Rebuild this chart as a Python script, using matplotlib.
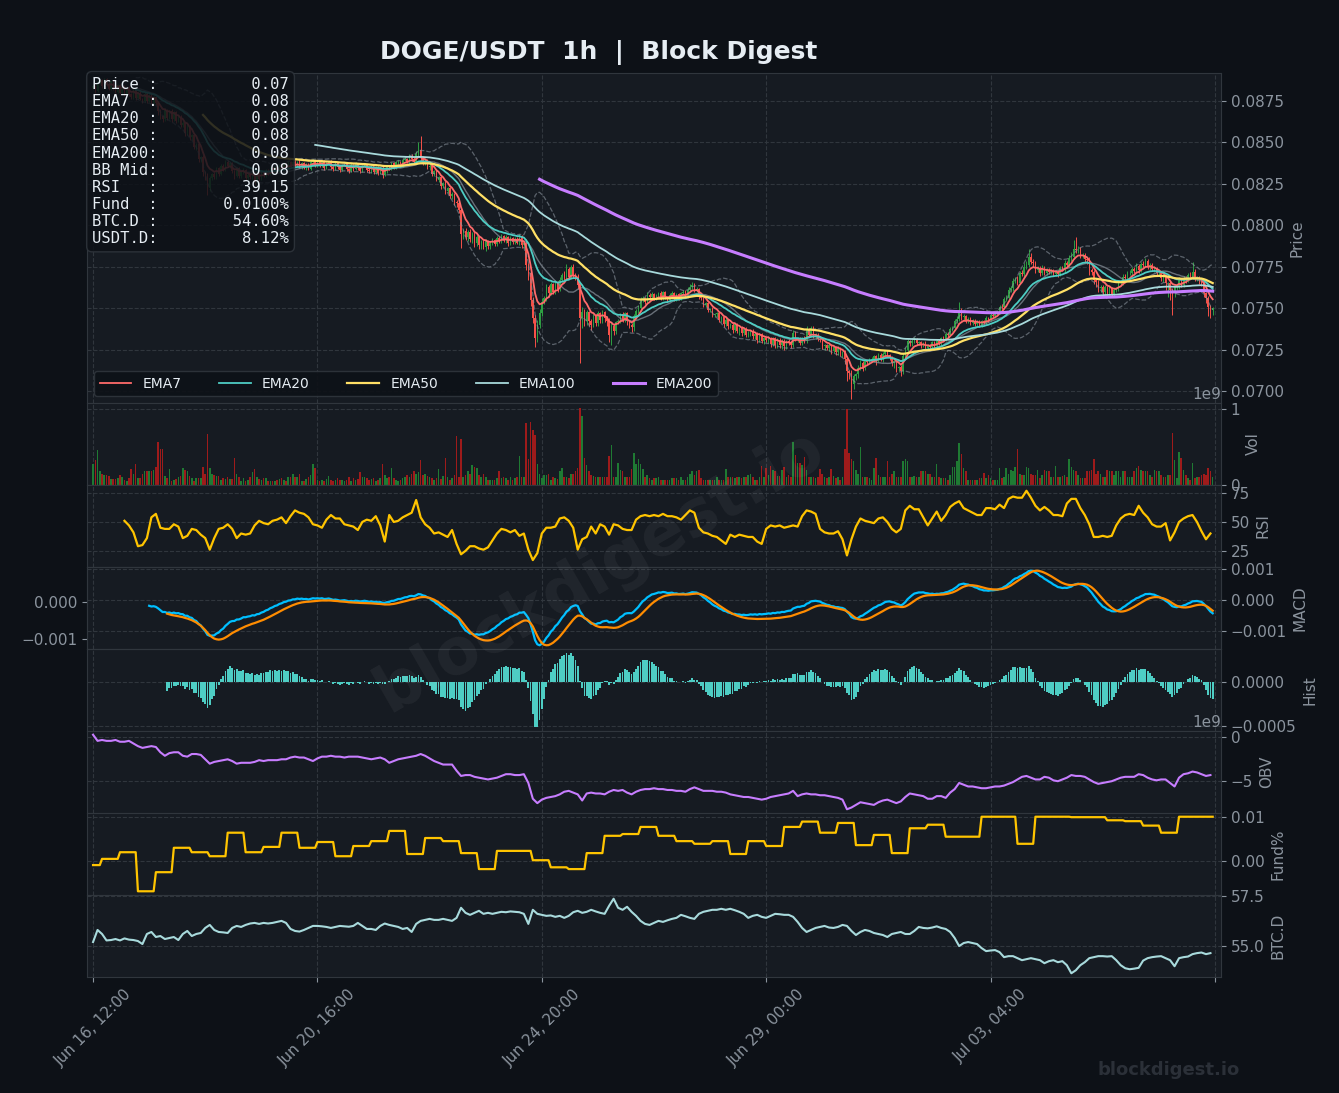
import numpy as np
import pandas as pd
import matplotlib
matplotlib.use("Agg")
import matplotlib.pyplot as plt

# ---------------- data ----------------
open0_e5 = 8830
close_e5 = [
8840,8810,8862,8875,8838,8880,8850,8825,8868,8830, 8805,8845,8800,8838,8795,8830,8790,8772,8815,8770,
8800,8765,8752,8795,8750,8785,8740,8772,8735,8690, 8660,8640,8695,8650,8690,8640,8685,8630,8655,8605,
8620,8555,8600,8530,8545,8470,8490,8400,8410,8320, 8300,8225,8285,8310,8290,8345,8310,8360,8335,8385,
8360,8375,8330,8300,8345,8295,8320,8335,8285,8305, 8290,8310,8265,8315,8280,8320,8300,8330,8310,8345,
8325,8350,8330,8365,8345,8372,8350,8380,8355,8385, 8360,8385,8350,8375,8345,8370,8340,8385,8390,8360,
8380,8360,8385,8345,8375,8385,8350,8340,8375,8350, 8335,8365,8370,8340,8330,8365,8340,8372,8345,8330,
8360,8365,8335,8325,8355,8320,8350,8318,8345,8305, 8325,8355,8340,8375,8348,8380,8385,8360,8395,8400,
8385,8420,8400,8380,8430,8455,8405,8375,8390,8350, 8360,8310,8325,8275,8290,8240,8255,8210,8225,8175,
8190,8140,8135,8090,7950,7965,7930,7960,7915,7950, 7895,7930,7880,7900,7870,7905,7875,7895,7910,7890,
7925,7905,7935,7910,7930,7895,7925,7900,7920,7895, 7935,7880,7895,7760,7710,7550,7440,7320,7400,7470,
7540,7560,7625,7590,7645,7600,7655,7615,7670,7700, 7685,7735,7690,7750,7700,7690,7640,7440,7480,7420,
7475,7420,7400,7455,7410,7470,7430,7475,7440,7425, 7340,7395,7360,7415,7420,7465,7430,7470,7420,7400,
7385,7450,7485,7500,7550,7560,7540,7580,7565,7585, 7560,7575,7590,7560,7595,7565,7550,7580,7590,7555,
7585,7560,7590,7600,7570,7610,7625,7640,7610,7615, 7570,7560,7520,7530,7490,7495,7460,7465,7470,7430,
7445,7405,7430,7390,7400,7370,7405,7365,7380,7350, 7375,7340,7355,7365,7330,7345,7310,7345,7305,7320,
7310,7320,7285,7320,7280,7310,7275,7305,7270,7300, 7290,7280,7350,7315,7320,7290,7315,7305,7370,7340,
7380,7335,7340,7315,7310,7270,7275,7260,7275,7240, 7265,7235,7260,7230,7235,7195,7120,7110,7040,7090,
7100,7140,7170,7140,7180,7175,7190,7195,7210,7190, 7220,7195,7225,7240,7215,7205,7170,7180,7140,7145,
7120,7210,7250,7300,7290,7305,7315,7290,7295,7280, 7290,7260,7275,7265,7295,7270,7305,7290,7320,7310,
7345,7340,7375,7380,7420,7435,7480,7445,7450,7420, 7435,7410,7425,7405,7420,7395,7420,7410,7440,7430,
7460,7455,7470,7475,7510,7505,7555,7560,7610,7620, 7665,7670,7655,7710,7705,7750,7760,7810,7780,7770,
7730,7745,7710,7745,7715,7730,7720,7725,7705,7720, 7705,7740,7735,7770,7760,7800,7810,7860,7850,7850,
7820,7820,7795,7790,7730,7720,7670,7660,7620,7630, 7600,7625,7590,7620,7585,7610,7615,7650,7650,7690,
7680,7710,7710,7735,7725,7755,7730,7765,7760,7785, 7750,7760,7735,7740,7710,7710,7680,7690,7650,7650,
7610,7590,7625,7630,7670,7640,7680,7670,7700,7690, 7720,7680,7685,7660,7655,7590,7560,7510,7490,7500,
]
wick_up_e5 = [
12,8,15,10,6,9,7,12,5,8,10,6,9,7,11,5,8,6,10,7, 6,9,5,8,7,10,6,8,5,9,12,7,10,6,8,9,5,7,6,8,
10,6,12,7,5,9,8,6,10,12,8,15,10,7,9,6,8,10,7,9, 12,6,8,5,9,7,6,10,5,8,9,6,7,10,5,8,6,9,7,8,
6,9,7,5,8,10,6,7,9,5,8,6,10,7,5,9,6,8,12,7, 6,8,5,7,9,6,8,5,7,6,9,5,8,7,6,9,5,8,6,7,
5,8,6,9,7,5,8,6,7,10,6,8,9,7,6,10,8,6,9,10, 8,12,9,15,20,45,85,15,10,8,9,7,10,6,8,9,7,10,8,6,
9,7,12,10,15,12,20,10,15,9,12,10,8,14,9,11,8,10,12,9, 10,8,12,9,11,8,10,7,9,12,15,8,10,20,15,25,18,20,30,25,
20,15,18,12,15,10,14,12,20,15,25,30,15,12,15,10,15,20,25,15, 12,10,15,9,12,14,10,15,9,12,15,18,12,10,15,9,12,10,8,11,
10,15,12,18,15,12,10,15,12,10,8,11,9,12,8,10,7,9,11,8, 9,7,10,12,8,15,18,20,12,10,8,10,7,9,8,6,10,8,9,7,
10,8,12,7,9,10,8,6,9,11,7,10,8,6,9,7,10,8,6,9, 8,10,7,9,6,11,8,7,10,9,12,8,20,10,9,8,11,15,25,12,
15,10,9,8,10,7,9,8,10,7,9,8,10,7,9,12,15,10,20,15, 12,15,20,10,12,10,9,12,8,10,9,12,10,9,8,10,9,7,10,8,
12,20,15,12,10,9,12,8,10,9,8,10,9,7,10,8,9,11,8,10, 9,10,12,15,12,15,55,20,12,10,9,10,8,9,10,8,9,10,12,9,
10,12,9,15,12,18,15,20,18,15,20,18,25,15,20,22,25,45,20,15, 15,12,10,15,12,10,14,10,12,9,12,15,12,18,15,20,30,50,70,25,
20,15,12,15,18,12,10,15,12,10,9,12,10,14,9,12,15,18,12,15, 18,15,20,12,15,18,12,15,20,15,12,10,15,12,10,14,12,10,12,9,
15,12,10,15,18,12,15,14,12,20,60,15,12,10,9,12,10,15,12,10,
]
wick_dn_e5 = [
8,10,6,9,12,7,8,10,6,12,8,9,10,7,12,8,10,9,7,11, 8,10,12,7,9,8,10,9,12,25,20,15,10,12,9,14,10,12,9,11,
12,15,9,14,15,12,18,15,20,22,25,40,15,12,9,10,12,8,10,9, 10,12,15,18,10,12,9,10,14,12,9,11,14,8,12,9,10,8,9,7,
9,10,7,9,8,10,9,7,10,8,9,11,7,10,8,12,9,7,8,10, 9,7,10,12,8,9,10,12,7,9,12,8,9,10,14,8,10,7,9,12,
10,8,12,10,9,12,10,14,9,18,10,8,9,7,10,8,9,10,7,8, 9,7,10,12,8,10,15,12,14,10,15,12,14,10,15,18,12,20,14,12,
15,20,25,15,85,30,20,25,18,22,25,18,20,22,15,25,18,20,15,12, 12,10,14,12,15,18,12,15,14,10,12,15,14,30,40,35,30,55,25,20,
15,12,15,20,12,15,12,18,12,10,15,12,15,12,20,18,25,270,60,30, 20,25,30,15,20,15,18,20,25,30,45,60,20,15,12,10,15,12,20,18,
30,20,15,12,15,10,12,15,10,12,9,12,10,9,12,10,14,9,10,12, 10,9,12,8,10,9,12,10,14,12,15,12,14,10,12,15,12,14,18,12,
15,20,12,15,12,20,15,12,25,18,12,15,12,20,15,18,22,15,18,20, 15,18,20,15,22,18,15,20,25,15,12,20,15,12,18,15,12,15,12,10,
12,15,18,12,15,18,20,15,18,15,12,18,15,20,25,30,60,40,90,30, 25,20,15,18,15,20,12,15,18,35,15,12,18,15,12,20,18,30,25,20,
30,15,12,15,20,18,15,12,15,18,12,15,12,14,10,12,15,10,12,9, 10,12,9,12,10,9,12,15,14,12,10,12,14,10,12,9,10,8,10,12,
9,10,12,10,12,9,12,10,14,12,15,12,15,12,10,15,12,10,14,20, 18,12,15,10,12,15,12,14,10,12,15,10,12,14,10,12,15,12,20,18,
15,20,18,25,30,20,25,30,20,25,20,18,25,20,18,15,12,10,12,10, 12,10,12,14,10,12,15,12,10,12,15,18,12,15,12,18,15,20,40,80,
60,130,20,15,12,15,12,15,12,10,12,15,18,15,20,25,30,60,50,30,
]
volume_e7 = [
28,33,46,18,15,13,13,12,8,8, 8,9,13,11,7,5,9,21,14,28, 9,9,15,18,18,18,18,20,24,56, 48,47,12,9,21,5,7,8,11,12,
22,20,18,12,9,5,9,9,9,24, 15,67,22,15,13,12,12,7,9,8, 10,8,8,35,15,11,5,9,5,7, 10,17,21,11,8,7,9,9,5,5,
5,5,7,8,9,7,5,11,11,14, 10,10,14,5,5,8,11,13,28,23, 7,5,6,5,8,12,7,5,6,9, 6,7,5,6,11,5,9,6,8,17,
11,11,9,7,8,9,5,7,9,28, 13,9,11,22,9,7,5,7,9,11, 13,11,15,18,15,17,33,13,15,12, 11,9,7,9,21,8,12,35,11,7,
9,13,65,11,61,11,13,18,15,26, 24,22,13,11,14,10,7,7,7,7, 9,18,9,10,9,7,10,7,9,11, 38,10,11,82,34,83,72,66,28,15,
9,13,13,14,7,10,9,8,18,22, 10,10,9,14,14,18,23,102,91,36, 26,19,13,12,11,10,10,10,10,10, 38,53,10,10,29,20,18,10,10,10,
21,42,28,34,28,21,11,13,9,7, 9,9,10,7,7,7,7,7,9,9, 9,7,10,7,7,10,15,18,13,18, 20,9,7,7,7,7,7,7,10,7,
7,7,21,10,11,10,9,10,10,9, 10,10,13,15,10,7,7,10,25,10, 23,13,25,20,18,12,12,20,24,11, 13,10,57,39,29,29,26,37,20,10,
10,10,9,10,21,14,10,9,10,21, 12,9,10,7,10,47,100,42,34,32, 20,15,50,10,10,10,9,7,22,35, 13,10,10,10,31,10,15,18,10,10,
10,31,34,31,10,10,12,10,10,18, 18,18,15,15,11,11,28,11,9,9, 9,7,13,24,24,31,55,41,22,18, 7,7,7,7,7,9,9,16,9,13,
9,7,7,7,22,9,11,22,15,20, 19,24,48,15,13,13,24,22,14,13, 13,20,9,13,20,18,19,11,10,25, 10,11,12,13,11,34,24,20,18,13,
9,9,9,18,19,20,34,15,18,14, 11,11,20,18,18,13,18,18,10,19, 18,11,11,10,18,22,25,20,18,18, 18,13,11,20,18,18,13,10,10,13,
13,68,33,9,44,35,20,13,9,7, 29,9,10,11,13,15,13,22,18,11,
]
# RSI sampled every 2 hours, from the 14th candle on
rsi_2h = [
51,47,41,29,30,36,54,57,45,44, 44,48,46,36,38,44,43,39,36,26,
36,44,45,48,44,36,40,39,40,47, 51,49,48,51,52,54,49,55,60,58,
57,54,48,47,45,52,56,53,53,48, 47,46,43,50,52,51,55,47,33,56,
50,51,54,56,58,69,54,48,45,40, 41,39,37,43,31,22,25,29,29,27,
26,28,34,40,44,43,41,43,38,40, 26,17,23,40,45,45,46,53,54,51,
45,26,35,37,46,40,48,46,39,48, 47,44,43,43,52,55,56,55,56,55,
57,55,55,54,52,56,60,58,45,41, 40,38,37,34,31,39,37,39,38,37,
37,33,31,44,47,46,47,45,46,47, 46,55,60,59,57,44,41,40,40,42,
35,21,35,46,53,51,50,49,53,54, 50,44,41,44,60,64,61,61,54,47,
53,59,51,56,63,66,68,62,60,58, 56,56,62,62,61,65,62,70,72,71,
71,77,71,64,60,63,60,56,56,55, 66,70,70,62,56,48,37,37,38,37,
38,47,53,56,57,56,64,58,54,48, 46,46,49,34,41,50,53,55,56,50,
42,35,40,
]
# OBV sampled every 2 hours (units of 1e8)
obv_2h_e8 = [
3,-4,-3,-4,-4,-3,-5,-5,-4,-7, -10,-12,-11,-10,-11,-17,-21,-18,-17,-17,
-21,-22,-19,-19,-20,-25,-30,-28,-27,-26, -25,-27,-30,-29,-29,-29,-28,-26,-27,-26,
-26,-26,-25,-25,-23,-22,-23,-23,-25,-27, -24,-22,-22,-21,-22,-22,-23,-22,-22,-22,
-23,-24,-25,-24,-23,-25,-29,-27,-25,-24, -23,-22,-21,-19,-21,-24,-27,-29,-31,-31,
-31,-38,-44,-43,-43,-45,-46,-47,-48,-47, -46,-44,-42,-42,-43,-43,-42,-52,-70,-75,
-71,-69,-68,-67,-65,-62,-61,-63,-65,-72, -64,-63,-64,-64,-65,-62,-60,-61,-60,-63,
-65,-62,-60,-59,-59,-58,-59,-59,-60,-60, -61,-61,-62,-59,-57,-59,-61,-61,-61,-62,
-62,-63,-65,-66,-67,-68,-68,-69,-70,-71, -70,-68,-67,-66,-65,-64,-61,-67,-65,-64,
-65,-65,-66,-66,-67,-68,-69,-71,-82,-80, -77,-74,-75,-76,-77,-74,-72,-71,-73,-75,
-73,-68,-64,-65,-66,-67,-70,-70,-67,-67, -69,-63,-59,-52,-54,-56,-56,-57,-58,-58,
-57,-56,-56,-55,-53,-51,-48,-45,-44,-46, -48,-48,-45,-46,-49,-50,-48,-46,-43,-44,
-44,-45,-48,-51,-53,-52,-51,-50,-48,-46, -45,-45,-45,-42,-43,-46,-48,-49,-48,-48,
-52,-56,-46,-42,-41,-39,-40,-42,-44,-43,
]
# BTC dominance sampled every 2 hours (units of 0.01 %)
btcd_2h_e2 = [
5520,5580,5560,5528,5530,5535,5528,5538,5532,5530, 5525,5510,5560,5570,5545,5550,5535,5540,5545,5530,
5560,5575,5550,5560,5565,5590,5605,5580,5570,5568, 5565,5590,5600,5595,5605,5612,5615,5610,5615,5612,
5615,5620,5625,5615,5585,5575,5572,5580,5590,5600, 5600,5598,5595,5590,5595,5600,5598,5596,5600,5615,
5600,5585,5585,5580,5600,5612,5605,5600,5595,5585, 5590,5570,5610,5625,5630,5635,5630,5630,5635,5630,
5625,5640,5690,5665,5655,5665,5675,5660,5665,5660, 5665,5670,5668,5672,5670,5668,5660,5610,5680,5660,
5655,5650,5652,5645,5650,5640,5650,5668,5675,5665, 5670,5680,5672,5665,5660,5700,5735,5690,5680,5695,
5670,5650,5625,5610,5605,5615,5625,5620,5628,5635, 5640,5655,5648,5640,5635,5660,5670,5675,5680,5680,
5685,5680,5685,5678,5670,5660,5640,5650,5655,5645, 5640,5650,5660,5658,5655,5655,5645,5620,5590,5570,
5580,5590,5595,5600,5592,5590,5595,5605,5600,5575, 5555,5570,5580,5575,5565,5560,5555,5545,5560,5565,
5570,5560,5560,5575,5595,5590,5588,5592,5598,5590, 5585,5570,5540,5500,5515,5520,5515,5510,5490,5475,
5478,5480,5470,5445,5450,5450,5440,5430,5435,5440, 5435,5430,5415,5425,5430,5420,5425,5405,5365,5380,
5405,5420,5440,5445,5450,5450,5448,5450,5430,5405, 5390,5385,5388,5392,5428,5440,5445,5448,5450,5440,
5430,5400,5440,5445,5448,5460,5465,5468,5460,5465,
]
# funding rate (%) per 8-hour funding period; first period starts 4 h before the first candle
funding_8h_pct = [
-0.0009,0.0005,0.0020,-0.0068,-0.0025,0.0030,0.0020,0.0011,0.0064,0.0020,
0.0032,0.0064,0.0030,0.0043,0.0011,0.0034,0.0045,0.0068,0.0016,0.0052,
0.0045,0.0018,-0.0018,0.0023,0.0023,0.0002,-0.0014,-0.0018,0.0018,0.0057,
0.0061,0.0077,0.0057,0.0045,0.0039,0.0045,0.0016,0.0045,0.0034,0.0077,
0.0089,0.0064,0.0086,0.0036,0.0059,0.0018,0.0074,0.0082,0.0055,0.0055,
0.0100,0.0100,0.0039,0.0100,0.0100,0.0099,0.0099,0.0092,0.0090,0.0080,
0.0064,0.0100,0.0100,0.0100,
]
info_labels = ["Price", "EMA7", "EMA20", "EMA50", "EMA200", "BB Mid", "RSI", "Fund", "BTC.D", "USDT.D"]
info_values = ["0.07", "0.08", "0.08", "0.08", "0.08", "0.08", "39.15", "0.0100%", "54.60%", "8.12%"]
x_tick_pos = [0, 100, 200, 300, 400, 500]
x_tick_labels = ["Jun 16, 12:00", "Jun 20, 16:00", "Jun 24, 20:00", "Jun 29, 00:00", "Jul 03, 04:00", ""]
ema_spans = [7, 20, 50, 100, 200]
ema_labels = ["EMA7", "EMA20", "EMA50", "EMA100", "EMA200"]

# ---------------- derived series ----------------
N = len(close_e5)
idx = np.arange(N)
close = np.array(close_e5) / 1e5
open_ = np.concatenate([[open0_e5 / 1e5], close[:-1]])
high = np.maximum(open_, close) + np.array(wick_up_e5) / 1e5
low = np.minimum(open_, close) - np.array(wick_dn_e5) / 1e5
vol = np.array(volume_e7) * 1e7
up = close >= open_
cs = pd.Series(close)

emas = [cs.ewm(span=s, adjust=False, min_periods=s).mean() for s in ema_spans]
bb_mid = cs.rolling(20).mean()
bb_std = cs.rolling(20).std()
bb_up = bb_mid + 2 * bb_std
bb_lo = bb_mid - 2 * bb_std

ema12 = cs.ewm(span=12, adjust=False).mean()
ema26 = cs.ewm(span=26, adjust=False, min_periods=26).mean()
macd = ema12 - ema26
signal = macd.ewm(span=9, adjust=False, min_periods=9).mean()
hist = macd - signal

rsi_x = idx[14::2]
rsi = np.array(rsi_2h, dtype=float)
obv_x = idx[::2]
obv = np.array(obv_2h_e8) * 1e8
btcd_x = idx[::2]
btcd = np.array(btcd_2h_e2) / 100
fund_hourly = np.repeat(funding_8h_pct, 8)[4:4 + N]

# ---------------- style ----------------
FIG_BG = "#0d1117"
AX_BG = "#161b22"
GRID = "#30363d"
SPINE = "#30363d"
TICK = "#8b949e"
TXT = "#e6edf3"
C_UP, C_DN = "#2ea043", "#f85149"
V_UP, V_DN = "#1f7a33", "#9e1b1b"
ema_colors = ["#ff6b6b", "#4ecdc4", "#ffe066", "#a8dadc", "#c77dff"]
ema_lw = [1.3, 1.3, 1.6, 1.3, 2.2]

fig = plt.figure(figsize=(13.39, 10.93), dpi=100, facecolor=FIG_BG)
gs = fig.add_gridspec(8, 1, height_ratios=[330, 82, 82, 82, 82, 82, 82, 82], hspace=0,
                      left=87 / 1339, right=1221 / 1339, top=1 - 73 / 1093, bottom=1 - 977 / 1093)
axes = []
for k in range(8):
    ax = fig.add_subplot(gs[k], sharex=axes[0] if axes else None)
    axes.append(ax)
ax_p, ax_v, ax_r, ax_m, ax_h, ax_o, ax_f, ax_b = axes


def style_right(ax):
    ax.yaxis.tick_right()
    ax.yaxis.set_label_position("right")
    ax.yaxis.set_offset_position("right")


for ax in axes:
    ax.set_facecolor(AX_BG)
    for s in ax.spines.values():
        s.set_color(SPINE)
    style_right(ax)
    ax.tick_params(axis="y", colors=TICK, labelsize=11)
    ax.tick_params(axis="x", colors=TICK, labelsize=11)
    ax.grid(True, color=GRID, linestyle="--", linewidth=0.8)
    ax.set_axisbelow(True)
    ax.yaxis.get_offset_text().set_color(TICK)
    ax.yaxis.get_offset_text().set_fontsize(11)
for ax in axes[:-1]:
    ax.tick_params(axis="x", length=0, labelbottom=False)

# price panel
colors = np.where(up, C_UP, C_DN)
ax_p.vlines(idx, low, high, colors=colors, linewidth=0.7, zorder=2)
ax_p.bar(idx, close - open_, bottom=open_, width=0.65, color=colors, linewidth=0, zorder=2)
ax_p.plot(idx, bb_up, color=TICK, lw=0.9, ls="--", alpha=0.6, zorder=3)
ax_p.plot(idx, bb_lo, color=TICK, lw=0.9, ls="--", alpha=0.6, zorder=3)
ax_p.plot(idx, bb_mid, color=TICK, lw=1.0, alpha=0.7, zorder=3)
for e, c, lw, lab in zip(emas, ema_colors, ema_lw, ema_labels):
    ax_p.plot(idx, e, color=c, lw=lw, label=lab, zorder=4)
ax_p.set_ylim(0.06928, 0.08919)
ax_p.set_yticks(np.arange(0.0700, 0.0876, 0.0025))
ax_p.set_ylabel("Price", color=TICK, fontsize=11)
ax_p.legend(loc="lower left", ncol=5, fontsize=10, facecolor=FIG_BG, edgecolor=SPINE,
            labelcolor=TXT, framealpha=0.9, handlelength=2.3, columnspacing=2.7)

info = "\n".join(f"{l:<6}:{v:>14}" for l, v in zip(info_labels, info_values))
ax_p.text(0.0045, 0.988, info, transform=ax_p.transAxes, va="top", ha="left",
          family="DejaVu Sans Mono", fontsize=11.2, color=TXT, linespacing=1.18, zorder=10,
          bbox=dict(boxstyle="round,pad=0.35", facecolor=FIG_BG, edgecolor=SPINE, alpha=0.85))

# volume
ax_v.bar(idx, vol, width=0.7, color=np.where(up, V_UP, V_DN), linewidth=0)
ax_v.set_ylim(0, 1.08e9)
ax_v.set_yticks([0, 1e9])
ax_v.set_ylabel("Vol", color=TICK, fontsize=11)

# RSI
ax_r.plot(rsi_x, rsi, color="#ffc400", lw=1.6)
ax_r.set_ylim(11, 82)
ax_r.set_yticks([25, 50, 75])
ax_r.set_ylabel("RSI", color=TICK, fontsize=11)

# MACD (MACD on right scale, signal on a left twin scale)
ax_m.plot(idx, macd, color="#00bfff", lw=1.6)
tw = ax_m.twinx()
tw.plot(idx, signal, color="#ff8c00", lw=1.6)
tw.yaxis.tick_left()
tw.yaxis.set_label_position("left")
tw.tick_params(axis="y", colors=TICK, labelsize=11)
tw.set_yticks([-0.001, 0.0])
tw.grid(False)
for s in tw.spines.values():
    s.set_color(SPINE)
style_right(ax_m)
ax_m.set_yticks([-0.001, 0.0, 0.001])
ax_m.set_ylabel("MACD", color=TICK, fontsize=11)

# histogram
ax_h.bar(idx, hist, width=0.8, color="#4ecdc4", linewidth=0)
ax_h.set_yticks([-0.0005, 0.0])
ax_h.set_ylabel("Hist", color=TICK, fontsize=11)

# OBV
ax_o.plot(obv_x, obv, color="#c77dff", lw=1.5)
ax_o.set_yticks([-5e9, 0])
ax_o.set_ylabel("OBV", color=TICK, fontsize=11)

# funding
ax_f.plot(idx, fund_hourly, color="#ffc400", lw=1.6)
ax_f.set_yticks([0.0, 0.01])
ax_f.set_ylabel("Fund%", color=TICK, fontsize=11)

# BTC dominance
ax_b.plot(btcd_x, btcd, color="#a8dadc", lw=1.5)
ax_b.set_yticks([55.0, 57.5])
ax_b.set_ylabel("BTC.D", color=TICK, fontsize=11)

ax_b.set_xlim(-2.7, 502.7)
ax_b.set_xticks(x_tick_pos)
ax_b.set_xticklabels(x_tick_labels, rotation=45)
ax_b.tick_params(axis="x", colors=TICK, labelsize=11)

fig.text(0.447, 0.952, "DOGE/USDT  1h  |  Block Digest", fontsize=18, fontweight="bold",
         color=TXT, ha="center", va="center")
fig.text(0.448, 0.478, "blockdigest.io", fontsize=46, fontweight="bold", color="white",
         alpha=0.05, rotation=30, ha="center", va="center", zorder=20)
fig.text(0.926, 0.021, "blockdigest.io", fontsize=13, fontweight="bold", color="#2b3038",
         ha="right", va="center")

fig.savefig("out.png", dpi=100, facecolor=FIG_BG)
